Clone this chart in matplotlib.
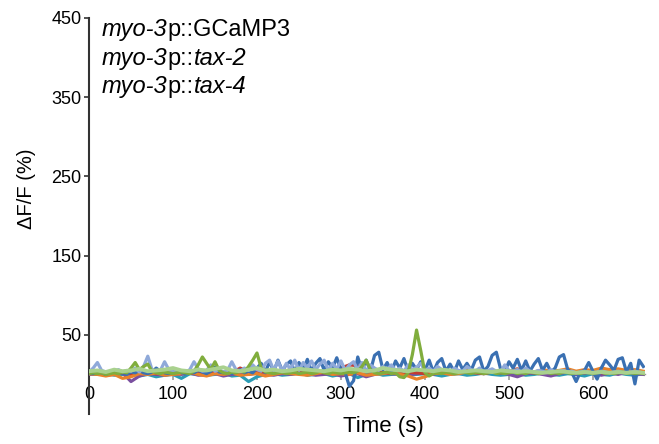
import numpy as np
import matplotlib
matplotlib.use('Agg')
import matplotlib.pyplot as plt
from matplotlib.offsetbox import TextArea, HPacker, VPacker, AnchoredOffsetbox

plt.rcParams['font.family'] = ['Liberation Sans', 'DejaVu Sans']

# sample times (s)
t5 = np.arange(0, 661, 5)
t10 = np.arange(0, 661, 10)

# dF/F (%) traces, 5 s sampling
blue = [2, 1, 3, 2, 0, 2, 4, 1, 2, 0,
        3, 2, 5, 2, 1, 3, 8, 4, 2, 1,
        3, 6, 2, 1, 3, 2, 5, 3, 1, 4,
        9, 3, 2, 4, 1, 3, 6, 2, 4, 2,
        8, 14, 3, 16, 4, 18, 5, 12, 17, 3,
        15, 6, 19, 4, 14, 20, 5, 16, 8, 21,
        6, 2, -15, -8, 22, 5, 18, 4, 24, 28,
        6, 15, 3, 17, 8, 20, 4, 14, 6, 16,
        5, 18, 3, 15, 20, 4, 13, 3, 17, 6,
        14, 5, 18, 22, 4, 10, 24, 28, 7, 3,
        16, 8, 19, 5, 17, 4, 13, 20, 5, 14,
        3, 8, 22, 25, 6, 2, -9, 3, 5, 15,
        4, -6, 8, 18, 12, 5, 19, 21, 3, 14,
        -12, 18, 10]

light_blue = [3, 8, 15, 5, 3, 2, 4, 6, 3, 5,
              4, 8, 3, 10, 23, 6, 4, 5, 16, 6,
              3, 5, 4, 3, 6, 16, 7, 4, 5, 12,
              4, 6, 3, 5, 16, 6, 4, 8, 5, 12,
              6, 4, 14, 18, 5, 17, 4, 14, 6, 18,
              5, 15, 8, 17, 6, 13, 18, 5, 14, 7,
              17, 5, 12, 16, 6, 15, 4, 12, 8, 5,
              10, 6, 12, 5, 8, 4, 12, 6, 9, 14,
              5, 8, 4, 10, 6, 5, 3, 8, 5, 4,
              10, 6, 4, 8, 3, 5, 7, 4, 3, 12,
              5, 4, 6, 3, 8, 4, 3, 5, 4, 3,
              6, 3, 4, 5, 3, 4, 2, 3, 4, 3,
              2, 3, 4, 3, 2, 3, 4, 3, 2, 3,
              4, 3, 2]

green = [1, 2, 1, 2, 0, 1, 2, 1, 3, 2,
         8, 15, 6, 10, 13, 4, 2, 1, 3, 2,
         1, 2, 3, 2, 1, 4, 12, 22, 14, 6,
         16, 5, 2, 1, 3, 2, 4, 3, 10, 18,
         27, 8, 3, 2, 1, 2, 3, 1, 2, 3,
         1, 2, 3, 1, 2, 4, 2, 1, 3, 2,
         1, 2, 3, 2, 4, 10, 18, 6, 2, 1,
         2, 3, 1, 2, -3, -4, 2, 25, 56, 30,
         2, -2, 1, 2, 1, 3, 2, 1, 2, 3,
         2, 1, 3, 2, 1, 2, 3, 1, 2, 1,
         2, 3, 1, 2, 1, 3, 2, 1, 2, 3,
         1, 2, 1, 3, 2, 1, 2, 1, 3, 2,
         1, 2, 3, 1, 2, 1, 2, 3, 1, 2,
         1, 2, 1]

# dF/F (%) traces, 10 s sampling
light_green = [4, 5, 3, 6, 4, 5, 7, 4, 5, 6,
               8, 5, 4, 6, 5, 7, 9, 5, 4, 6,
               8, 5, 6, 4, 5, 7, 6, 5, 4, 6,
               5, 7, 6, 4, 5, 8, 6, 5, 4, 6,
               5, 4, 6, 5, 3, 4, 5, 4, 3, 5,
               4, 3, 4, 3, 2, 3, 4, 3, 2, 3,
               2, 3, 2, 3, 2, 3, 2]

orange = [1, 0, -2, 0, -5, -3, 1, 0, 2, -1,
          0, 1, 3, 0, -2, 1, 0, 2, -1, 0,
          1, -2, 0, 2, 1, 0, -1, 1, 3, 0,
          1, 0, 2, -1, 0, 1, 3, 0, -2, -6,
          -3, 1, 2, 0, 1, 3, 2, 4, 3, 5,
          4, 6, 5, 3, 6, 4, 5, 7, 4, 6,
          5, 8, 6, 7, 5, 6, 4]

red = [2, 1, 3, 1, 2, 0, 2, 3, 1, 2,
       1, 3, 2, 1, 4, 2, 3, 2, 8, 3,
       2, 4, 1, 3, 6, 2, 1, 3, 2, 4,
       8, 12, 11, 4, 2, 3, 1, 2, 3, 2,
       1, 2, 3, 1, 2, 5, 2, 1, 3, 2,
       4, 7, 3, 2, 4, 3, 2, 5, 3, 2,
       3, 2, 4, 3, 2, 3, 2]

purple = [0, 1, -1, 0, 2, -9, -2, 1, 0, -1,
          1, 0, 2, -1, 0, 1, -2, 0, 1, 0,
          2, 0, -1, 1, 0, 2, 1, -1, 0, 1,
          -2, 0, 1, -3, 0, 2, 1, 0, -1, 1,
          2, 0, 3, 5, 2, 6, 3, 1, 4, 2,
          0, -3, 1, 2, 0, -2, 1, 3, 0, 4,
          1, -1, 2, 0, 3, 1, 0]

teal = [1, 0, 2, -1, 0, 1, -2, 0, -3, -1,
        0, -5, 1, 0, -1, 0, 2, -2, -1, -9,
        -3, 0, 1, -1, 0, 2, -1, 0, 1, -2,
        0, 1, -4, 0, 2, -1, 0, 1, -1, 0,
        1, 0, -2, 0, 1, -1, 0, 2, 0, -1,
        0, 1, -1, 0, 2, 0, -1, 1, 0, -2,
        1, 0, -1, 2, 0, -1, 1]

pink = [2, 1, 2, 3, 1, 2, 1, 2, 3, 1,
        2, 1, 3, 2, 1, 2, 3, 1, 2, 1,
        2, 3, 1, 2, 1, 2, 3, 2, 1, 2,
        1, 2, 3, 1, 2, 1, 2, 3, 1, 2,
        2, 1, 2, 3, 1, 2, 1, 2, 1, 3,
        2, 1, 2, 1, 3, 2, 1, 2, 1, 2,
        1, 2, 1, 2, 1, 2, 1]

x_ticks = [0, 100, 200, 300, 400, 500, 600]
y_ticks = [50, 150, 250, 350, 450]

fig = plt.figure(figsize=(6.59, 4.44), dpi=100)
ax = fig.add_axes([89 / 659, 1 - 414 / 444, 556 / 659, 396 / 444])

lw = 2.3
ax.plot(t10, pink, color='#e9a3a5', lw=lw, zorder=3)
ax.plot(t10, teal, color='#2a9cb5', lw=lw, zorder=3)
ax.plot(t10, purple, color='#7a4f9f', lw=lw, zorder=3)
ax.plot(t10, red, color='#c23b30', lw=lw, zorder=3)
ax.plot(t10, orange, color='#e8822a', lw=lw, zorder=3)
ax.plot(t5, blue, color='#3a70b2', lw=lw, zorder=3)
ax.plot(t5, light_blue, color='#8fa9d9', lw=lw, zorder=3)
ax.plot(t5, green, color='#80ad3d', lw=lw, zorder=3)
ax.plot(t10, light_green, color='#a9d18e', lw=2.8, zorder=3)

ax.set_xlim(0, 662)
ax.set_ylim(-50, 450)
ax.set_xticks(x_ticks)
ax.set_yticks(y_ticks)

for s in ['top', 'right']:
	ax.spines[s].set_visible(False)
ax.spines['left'].set_color('#333333')
ax.spines['left'].set_linewidth(1.5)
ax.spines['bottom'].set_position(('data', 0))
ax.spines['bottom'].set_color('#999999')
ax.spines['bottom'].set_linewidth(1.0)
ax.spines['bottom'].set_zorder(2)

ax.tick_params(axis='y', direction='out', length=3.5, width=1.2, color='#333333', pad=2, labelsize=13)
ax.tick_params(axis='x', direction='out', length=4, width=1.2, color='#999999', pad=4, labelsize=13)

fig.text(383 / 659, 1 - 426 / 444, 'Time (s)', ha='center', va='center', fontsize=16)
fig.text(27 / 659, 1 - 189 / 444, '\u0394F/F (%)', ha='center', va='center', rotation=90, fontsize=14.5)

# genotype label, italic gene names
fs = 17
def line(parts):
	kids = []
	for txt, it in parts:
		kids.append(TextArea(txt, textprops=dict(fontsize=fs, style='italic' if it else 'normal')))
	return HPacker(children=kids, pad=0, sep=0)

box = VPacker(children=[
	line([('myo-3', True), ('p::GCaMP3', False)]),
	line([('myo-3', True), ('p::', False), ('tax-2', True)]),
	line([('myo-3', True), ('p::', False), ('tax-4', True)]),
], align='left', pad=0, sep=4)
anc = AnchoredOffsetbox(loc='upper left', child=box, pad=0, borderpad=0, frameon=False,
	bbox_to_anchor=(102 / 659, 1 - 18 / 444), bbox_transform=fig.transFigure)
fig.add_artist(anc)

fig.savefig('out.png', dpi=100)
